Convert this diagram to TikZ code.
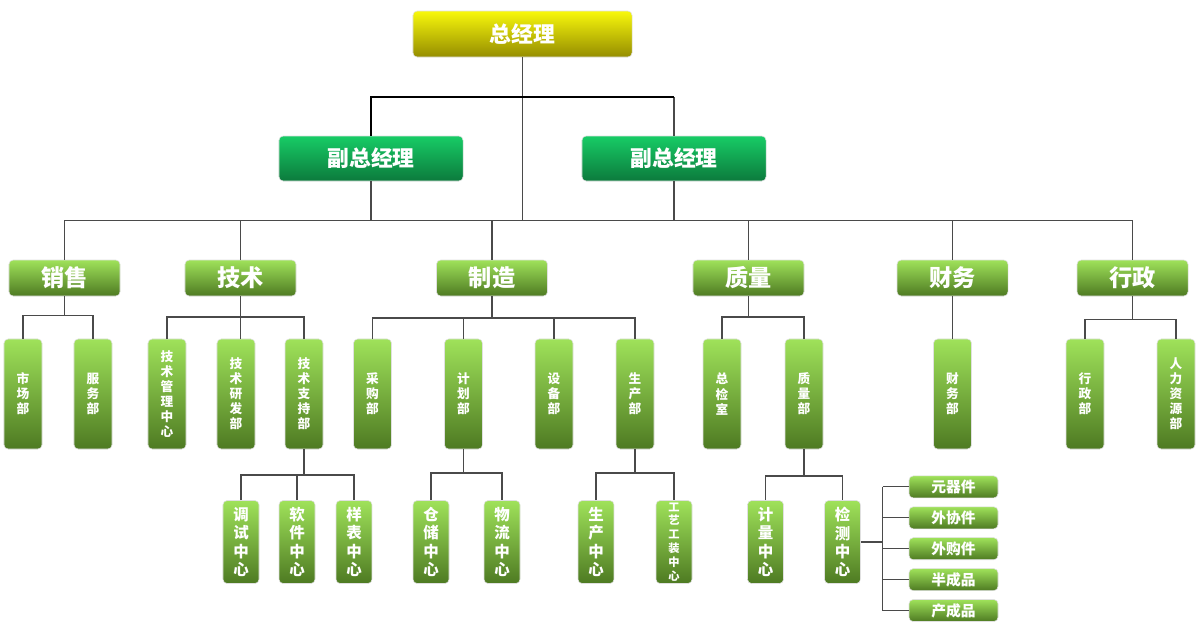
\documentclass[tikz,border=0pt]{standalone}
\usepackage{fontspec}
\setmainfont{Noto Sans CJK SC}
\definecolor{ceotop}{HTML}{F8F80C}\definecolor{ceobot}{HTML}{958D00}
\definecolor{vptop}{HTML}{17CC66}\definecolor{vpbot}{HTML}{0C7A3C}
\definecolor{grtop}{HTML}{9FE25A}\definecolor{grbot}{HTML}{4E7A22}
\definecolor{wirecol}{HTML}{4A4A4A}
\tikzset{
 orgbox/.style={rounded corners=3pt,draw=black!12,line width=.4pt,text=white,inner sep=0pt,align=center,top color=grtop,bottom color=grbot},
 ceobox/.style={orgbox,top color=ceotop,bottom color=ceobot,minimum width=5.475cm,minimum height=1.15cm,font=\bfseries\fontsize{15.5}{15.5}\selectfont},
 vpbox/.style={orgbox,top color=vptop,bottom color=vpbot,minimum width=4.6cm,minimum height=1.125cm,font=\bfseries\fontsize{15.5}{15.5}\selectfont},
 deptbox/.style={orgbox,minimum width=2.775cm,minimum height=.9cm,font=\bfseries\fontsize{16.5}{16.5}\selectfont},
 unitbox/.style={orgbox,minimum width=.95cm,minimum height=2.75cm,font=\bfseries\fontsize{9}{10.7}\selectfont},
 centerbox/.style={orgbox,minimum width=.9cm,minimum height=2.075cm,font=\bfseries\fontsize{11}{13}\selectfont},
 partbox/.style={orgbox,minimum width=2.225cm,minimum height=.55cm,font=\bfseries\fontsize{10.5}{10.5}\selectfont},
 wire/.style={draw=wirecol,line width=.75pt},
 heavywire/.style={draw=black,line width=1.1pt}
}
\begin{document}
\begin{tikzpicture}[x=.025cm,y=-.025cm]
\useasboundingbox(0,0)rectangle(1200,634);
% bus levels
\coordinate(top)at(0,97);\coordinate(main)at(0,220.5);
\coordinate(b1)at(0,315.5);\coordinate(b2)at(0,317);\coordinate(b3)at(0,318);\coordinate(b4)at(0,317);\coordinate(b6)at(0,319.5);
\coordinate(c1)at(0,475);\coordinate(c2)at(0,473);\coordinate(c3)at(0,473);\coordinate(c4)at(0,476);\coordinate(k)at(882.5,0);
% boxes
\node[ceobox](ceo)at(522.5,34){总经理};
\node[vpbox](vpl)at(371,158.5){副总经理};\node[vpbox](vpr)at(674,158.5){副总经理};
\foreach\n/\x/\t in{sales/64.5/销售,tech/240.5/技术,make/492/制造,qual/748.5/质量,fin/952.5/财务,adm/1132.5/行政}\node[deptbox](\n)at(\x,278){\t};
\foreach\n/\x/\t in{mkt/23/市\\场\\部,svc/93/服\\务\\部,tmc/167/技\\术\\管\\理\\中\\心,tmd/236/技\\术\\研\\发\\部,tsp/304/技\\术\\支\\持\\部,buy/372.5/采\\购\\部,plan/463.5/计\\划\\部,equ/554/设\\备\\部,mfg/635/生\\产\\部,insp/722/总\\检\\室,qdep/804/质\\量\\部,fdep/952.5/财\\务\\部,adep/1085/行\\政\\部,hr/1176/人\\力\\资\\源\\部}\node[unitbox](\n)at(\x,394){\t};
\foreach\n/\x/\t in{dbg/241/调\\试\\中\\心,sw/297/软\\件\\中\\心,smp/354/样\\表\\中\\心,store/431/仓\\储\\中\\心,logi/502/物\\流\\中\\心,pc/596/生\\产\\中\\心,meas/765.5/计\\量\\中\\心,test/842.5/检\\测\\中\\心}\node[centerbox](\n)at(\x,542){\t};
\node[centerbox,font=\bfseries\fontsize{8}{9.9}\selectfont](tool)at(674,542){工\\艺\\工\\装\\中\\心};
\foreach\t[count=\i]in{元器件,外协件,外购件,半成品,产成品}\node[partbox](p\i)at(953.5,{456+30.9*\i}){\t};
% top links
\draw[wire](ceo.south)--(ceo.south|-main);\draw[wire](vpr.north)--(vpr.north|-top);\draw[heavywire](vpl.north)|-(vpr.north|-top);
\draw[wire](vpl.south)--(vpl.south|-main);\draw[wire](vpr.south)--(vpr.south|-main);
\draw[wire](sales.north)|-(adm.north|-main)--(adm.north);\foreach\n in{tech,make,qual,fin}\draw[wire](\n.north)--(\n.north|-main);
% departments
\draw[wire](sales.south)--(sales.south|-b1);\draw[wire](mkt.north)|-(svc.north|-b1)--(svc.north);
\draw[wire](tech.south)--(tech.south|-tmd.north);\draw[wire](tmc.north)|-(tsp.north|-b2)--(tsp.north);
\draw[wire](make.south)--(make.south|-b3);\draw[wire](buy.north)|-(mfg.north|-b3)--(mfg.north);\foreach\n in{plan,equ}\draw[wire](\n.north)--(\n.north|-b3);
\draw[wire](qual.south)--(qual.south|-b4);\draw[wire](insp.north)|-(qdep.north|-b4)--(qdep.north);
\draw[wire](fin.south)--(fdep.north);
\draw[wire](adm.south)--(adm.south|-b6);\draw[wire](adep.north)|-(hr.north|-b6)--(hr.north);
% centres
\draw[wire](tsp.south)--(tsp.south|-c1);\draw[wire](dbg.north)|-(smp.north|-c1)--(smp.north);\draw[wire](sw.north)--(sw.north|-c1);
\draw[wire](plan.south)--(plan.south|-c2);\draw[wire](store.north)|-(logi.north|-c2)--(logi.north);
\draw[wire](mfg.south)--(mfg.south|-c3);\draw[wire](pc.north)|-(tool.north|-c3)--(tool.north);
\draw[wire](qdep.south)--(qdep.south|-c4);\draw[wire](meas.north)|-(test.north|-c4)--(test.north);
\draw[wire](test.east)--(test.east-|k);\draw[wire](k|-p1)--(k|-p5);\foreach\i in{1,...,5}\draw[wire](k|-p\i)--(p\i.west);
\end{tikzpicture}
\end{document}
